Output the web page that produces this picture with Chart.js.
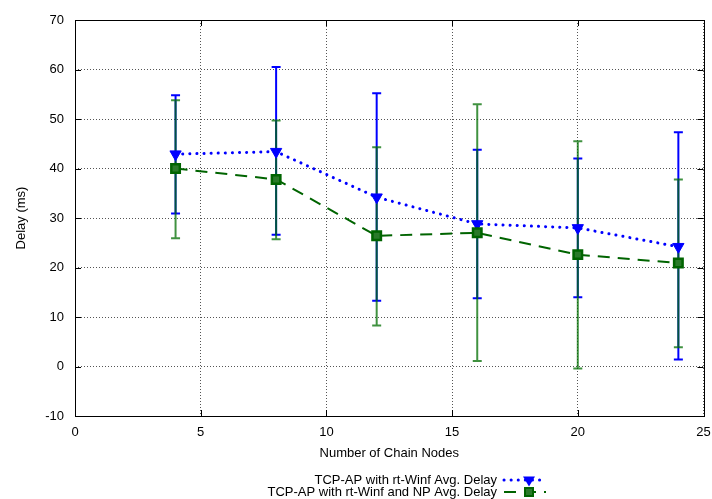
<!DOCTYPE html>
<html>
<head>
<meta charset="utf-8">
<script src="https://cdn.jsdelivr.net/npm/chart.js@4/dist/chart.umd.min.js"></script>
<style>
  html, body { margin: 0; padding: 0; background: #fff; }
  #wrap { width: 712px; height: 499px; }
</style>
</head>
<body>
<div id="wrap"><canvas id="c" width="712" height="499"></canvas></div>
<script>
// Chain length (number of nodes) on the x axis
const nodes = [4, 8, 12, 16, 20, 24];

// TCP-AP with rt-Winf: average delay and its spread (ms)
const rtWinfDelay = [42.9, 43.4, 34.2, 28.8, 28.0, 24.2];
const rtWinfLow   = [30.9, 26.6, 13.3, 13.8, 14.0, 1.4];
const rtWinfHigh  = [54.8, 60.5, 55.2, 43.8, 42.0, 47.3];

// TCP-AP with rt-Winf and NP: average delay and its spread (ms)
const npDelay = [40.0, 37.8, 26.4, 27.0, 22.6, 20.9];
const npLow   = [25.9, 25.7, 8.3, 1.1, -0.4, 3.9];
const npHigh  = [53.8, 49.7, 44.3, 53.0, 45.5, 37.8];

// Axis ticks
const xTicks = [0, 5, 10, 15, 20, 25];
const yTicks = [-10, 0, 10, 20, 30, 40, 50, 60, 70];

const seriesNames = [
  'TCP-AP with rt-Winf Avg. Delay',
  'TCP-AP with rt-Winf and NP Avg. Delay'
];

const BLUE = '#0000ff';
const GREEN = '#006400';
const SQUARE_FILL = '#2a7a2a';
const FONT = '"Liberation Sans", Arial, Helvetica, sans-serif';

const toPoints = (ys) => nodes.map((x, i) => ({ x, y: ys[i] }));

// Vertical error bars with caps, drawn through the chart's scales
const errorBars = {
  id: 'errorBars',
  beforeDatasetsDraw(chart) {
    const { ctx, scales: { x, y }, chartArea } = chart;
    const sets = [
      { low: rtWinfLow, high: rtWinfHigh, color: BLUE },
      { low: npLow, high: npHigh, color: 'rgba(0,110,0,0.75)' }
    ];
    ctx.save();
    ctx.beginPath();
    ctx.rect(chartArea.left, chartArea.top, chartArea.right - chartArea.left, chartArea.bottom - chartArea.top);
    ctx.clip();
    sets.forEach(s => {
      ctx.strokeStyle = s.color;
      ctx.lineWidth = 2;
      nodes.forEach((n, i) => {
        const px = x.getPixelForValue(n);
        const yl = y.getPixelForValue(s.low[i]);
        const yh = y.getPixelForValue(s.high[i]);
        ctx.beginPath();
        ctx.moveTo(px, yl); ctx.lineTo(px, yh);
        ctx.moveTo(px - 4.5, yl); ctx.lineTo(px + 4.5, yl);
        ctx.moveTo(px - 4.5, yh); ctx.lineTo(px + 4.5, yh);
        ctx.stroke();
      });
    });
    ctx.restore();
  }
};

// Plot frame with inward tick marks on all four sides, plus the key
const frameAndKey = {
  id: 'frameAndKey',
  afterDraw(chart) {
    const { ctx, scales: { x, y }, chartArea: a } = chart;
    ctx.save();
    ctx.strokeStyle = '#000';
    ctx.lineWidth = 1;
    ctx.setLineDash([]);
    ctx.beginPath();
    xTicks.forEach(v => {
      const px = Math.round(x.getPixelForValue(v)) + 0.5;
      ctx.moveTo(px, a.bottom); ctx.lineTo(px, a.bottom - 6);
      ctx.moveTo(px, a.top); ctx.lineTo(px, a.top + 6);
    });
    yTicks.forEach(v => {
      const py = Math.round(y.getPixelForValue(v)) + 0.5;
      ctx.moveTo(a.left, py); ctx.lineTo(a.left + 6, py);
      ctx.moveTo(a.right, py); ctx.lineTo(a.right - 6, py);
    });
    ctx.stroke();
    ctx.strokeRect(Math.round(a.left) + 0.5, Math.round(a.top) + 0.5,
                   Math.round(a.right - a.left), Math.round(a.bottom - a.top));

    // key, bottom right under the axis title
    ctx.font = '13px ' + FONT;
    ctx.fillStyle = '#000';
    ctx.textAlign = 'right';
    ctx.textBaseline = 'middle';
    const textRight = 497, sx0 = 504, sx1 = 546, mx = 529;
    const rows = [480, 492];

    ctx.fillText(seriesNames[0], textRight, rows[0]);
    ctx.strokeStyle = BLUE;
    ctx.lineWidth = 3;
    ctx.lineCap = 'round';
    ctx.setLineDash([0.1, 7]);
    ctx.beginPath(); ctx.moveTo(sx0, rows[0]); ctx.lineTo(sx1, rows[0]); ctx.stroke();
    ctx.setLineDash([]);
    ctx.fillStyle = BLUE;
    ctx.beginPath();
    ctx.moveTo(mx - 6, rows[0] - 3.5);
    ctx.lineTo(mx + 6, rows[0] - 3.5);
    ctx.lineTo(mx, rows[0] + 6.5);
    ctx.closePath(); ctx.fill();

    ctx.fillStyle = '#000';
    ctx.fillText(seriesNames[1], textRight, rows[1]);
    ctx.strokeStyle = GREEN;
    ctx.lineWidth = 2;
    ctx.lineCap = 'butt';
    ctx.setLineDash([12, 8]);
    ctx.beginPath(); ctx.moveTo(sx0, rows[1]); ctx.lineTo(sx1, rows[1]); ctx.stroke();
    ctx.setLineDash([]);
    ctx.fillStyle = SQUARE_FILL;
    ctx.fillRect(mx - 4, rows[1] - 4, 8, 8);
    ctx.strokeStyle = GREEN;
    ctx.lineWidth = 2;
    ctx.strokeRect(mx - 4, rows[1] - 4, 8, 8);
    ctx.restore();
  }
};

new Chart(document.getElementById('c'), {
  type: 'line',
  data: {
    datasets: [
      {
        label: seriesNames[0],
        data: toPoints(rtWinfDelay),
        borderColor: BLUE,
        backgroundColor: BLUE,
        borderWidth: 3,
        borderDash: [0.1, 7],
        borderCapStyle: 'round',
        pointStyle: 'triangle',
        rotation: 180,
        pointRadius: 6.5,
        pointBorderWidth: 1,
        pointBorderColor: BLUE,
        pointBackgroundColor: BLUE,
        tension: 0,
        order: 1
      },
      {
        label: seriesNames[1],
        data: toPoints(npDelay),
        borderColor: GREEN,
        backgroundColor: GREEN,
        borderWidth: 2,
        borderDash: [12, 8],
        pointStyle: 'rect',
        pointRadius: 6,
        pointBorderWidth: 2.5,
        pointBorderColor: GREEN,
        pointBackgroundColor: SQUARE_FILL,
        tension: 0,
        order: 0
      }
    ]
  },
  options: {
    responsive: false,
    animation: false,
    events: [],
    layout: { padding: { top: 20, right: 8, left: 0, bottom: 36 } },
    plugins: { legend: { display: false }, tooltip: { enabled: false } },
    scales: {
      x: {
        type: 'linear',
        min: 0, max: 25,
        afterBuildTicks: (s) => { s.ticks = xTicks.map(v => ({ value: v })); },
        afterFit: (s) => { s.height = 47; s.paddingLeft = 0; s.paddingRight = 0; },
        grid: { color: '#555', lineWidth: 1, drawTicks: false },
        border: { display: false, dash: [1, 2] },
        ticks: { color: '#000', padding: 9, font: { family: FONT, size: 13 }, maxRotation: 0 },
        title: { display: true, text: 'Number of Chain Nodes', color: '#000',
                 font: { family: FONT, size: 13 }, padding: { top: 0, bottom: 2 } }
      },
      y: {
        type: 'linear',
        min: -10, max: 70,
        afterBuildTicks: (s) => { s.ticks = yTicks.map(v => ({ value: v })); },
        afterFit: (s) => { s.width = 75; s.paddingTop = 0; s.paddingBottom = 0; },
        grid: { color: '#555', lineWidth: 1, drawTicks: false },
        border: { display: false, dash: [1, 2] },
        ticks: { color: '#000', padding: 11, font: { family: FONT, size: 13 } },
        title: { display: true, text: 'Delay (ms)', color: '#000',
                 font: { family: FONT, size: 13 }, padding: { top: 14, bottom: 0 } }
      }
    }
  },
  plugins: [errorBars, frameAndKey]
});
</script>
</body>
</html>
